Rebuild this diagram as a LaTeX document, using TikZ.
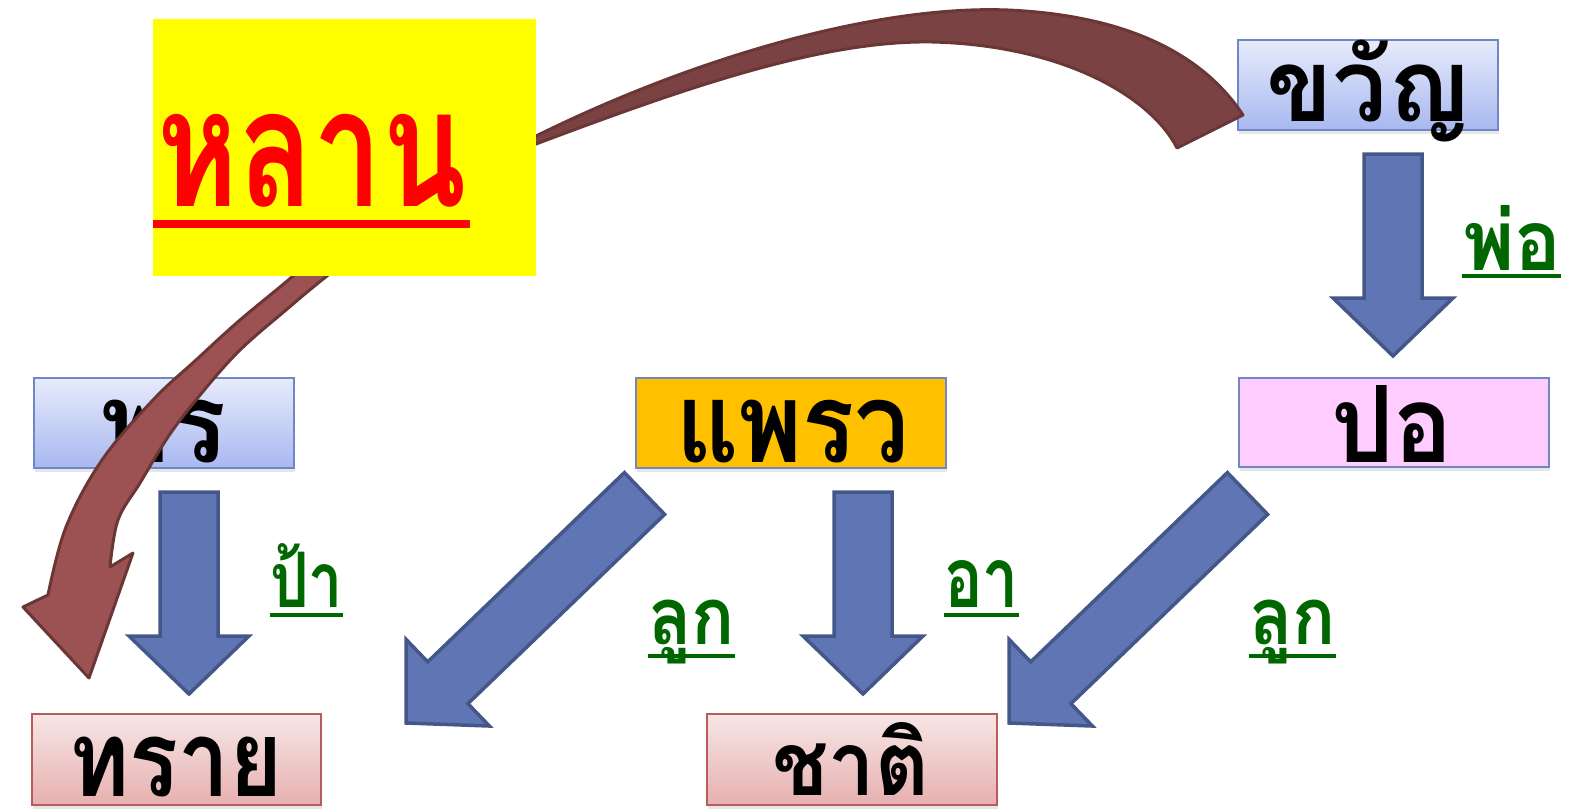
\documentclass[tikz,border=0pt]{standalone}
\usepackage{fontspec}
\usepackage{graphicx}
\newfontfamily\thaifont[Script=Thai]{Loma}
\XeTeXuseglyphmetrics=1
\usetikzlibrary{calc,shadows}
\definecolor{boxblue}{HTML}{6F87C7}
\definecolor{bluetop}{HTML}{E7EBFB}
\definecolor{bluebot}{HTML}{A8B8F0}
\definecolor{pinktop}{HTML}{F7E6E6}
\definecolor{pinkbot}{HTML}{E6B0AF}
\definecolor{pinkborder}{HTML}{B65C5A}
\definecolor{orangefill}{HTML}{FFC000}
\definecolor{lilac}{HTML}{FFCCFF}
\definecolor{arrowfill}{HTML}{6076B4}
\definecolor{arrowline}{HTML}{435788}
\definecolor{browndark}{HTML}{7A4242}
\definecolor{brownlight}{HTML}{9C5252}
\definecolor{brownline}{HTML}{6B3636}
\definecolor{labelgreen}{HTML}{006600}
\definecolor{titleyellow}{HTML}{FFFF00}
\newcommand\fittext[3]{\resizebox*{#1pt}{#2pt}{\thaifont\bfseries #3}}
\newcommand\barrow[2]{%
  \coordinate (hb) at ($(#2)!58pt!(#1)$);
  \draw[blockarrow] ($(#1)!29pt!90:(#2)$) -- ($(hb)!29pt!-90:(#1)$) -- ($(hb)!60pt!-90:(#1)$) -- (#2)
    -- ($(hb)!60pt!90:(#1)$) -- ($(hb)!29pt!90:(#1)$) -- ($(#1)!29pt!-90:(#2)$) -- cycle;}
\begin{document}
\begin{tikzpicture}[x=1pt,y=-1pt,
  box/.style={draw=boxblue, line width=2pt, inner sep=0pt, anchor=north west,
    drop shadow={shadow xshift=1pt, shadow yshift=-4pt, opacity=0.2}},
  bluebox/.style={box, top color=bluetop, bottom color=bluebot},
  pinkbox/.style={box, draw=pinkborder, top color=pinktop, bottom color=pinkbot},
  txt/.style={inner sep=0pt, outer sep=0pt, anchor=north west},
  blockarrow/.style={fill=arrowfill, draw=arrowline, line width=3.5pt, line join=miter},
  brownarrow/.style={draw=brownline, line width=3pt, line join=round},
  gul/.style={draw=labelgreen, line width=4pt},
]
\useasboundingbox (0,0) rectangle (1573,808);

% boxes
\node[bluebox, minimum width=260, minimum height=90] (kwan) at (1237,39) {};
\node[bluebox, minimum width=260, minimum height=90] (phon) at (33,377) {};
\node[box, fill=orangefill, minimum width=310, minimum height=90] (phraew) at (635,377) {};
\node[box, fill=lilac, minimum width=310, minimum height=89] (por) at (1238,377) {};
\node[pinkbox, minimum width=289, minimum height=91] (sai) at (31,713) {};
\node[pinkbox, minimum width=290, minimum height=91] (chat) at (706,713) {};

% box texts
\node[txt] (tkwan) at (1266,40) {\fittext{204}{102}{ขวัญ}};
\node[txt] (tphon) at (100,400) {\fittext{127}{63}{พร}};
\node[txt] (tphraew) at (676,400) {\fittext{233}{63}{แพรว}};
\node[txt] (tpor) at (1331,385) {\fittext{122}{77}{ปอ}};
\node[txt] (tsai) at (69,737) {\fittext{214}{60}{ทราย}};
\node[txt] (tchat) at (772,722) {\fittext{157}{73}{ชาติ}};

% block arrows
\coordinate (a1t) at (1393,154); \coordinate (a1p) at (1393,356);
\coordinate (a2t) at (189,492);  \coordinate (a2p) at (189,694);
\coordinate (a3t) at (863,492);  \coordinate (a3p) at (863,694);
\coordinate (a4t) at (644.5,493.5); \coordinate (a4p) at (406,723);
\coordinate (a5t) at (1247.5,493.5); \coordinate (a5p) at (1009,723);
\barrow{a1t}{a1p}
\barrow{a2t}{a2p}
\barrow{a3t}{a3p}
\barrow{a4t}{a4p}
\barrow{a5t}{a5p}

% relation labels
\node[txt, text=labelgreen] (lpho) at (1463,205) {\fittext{98}{65}{พ่อ}};
\draw[gul] (1462,276) -- (1561,276);
\node[txt, text=labelgreen] (lpa) at (270,543) {\fittext{73}{64}{ป้า}};
\draw[gul] (270,615) -- (343,615);
\node[txt, text=labelgreen] (lluk1) at (648,600) {\fittext{87}{64}{ลูก}};
\draw[gul] (648,656) -- (735,656);
\node[txt, text=labelgreen] (la) at (944,560) {\fittext{75}{47}{อา}};
\draw[gul] (944,615) -- (1019,615);
\node[txt, text=labelgreen] (lluk2) at (1249,600) {\fittext{87}{64}{ลูก}};
\draw[gul] (1249,656) -- (1336,656);

% brown curved arrow
\draw[brownarrow, fill=browndark] (520,146) -- (536,136) .. controls (700,55) and (880,5) .. (1008,10)
  .. controls (1120,15) and (1200,50) .. (1243,115) -- (1177,148)
  .. controls (1150,95) and (1060,45) .. (932,42) .. controls (820,40) and (680,90) .. (536,144) -- (520,152) -- cycle;
\draw[brownarrow, fill=brownlight] plot[smooth, tension=0.6] coordinates {(390,228) (327,276) (286,310) (238,352) (196,400) (168,437) (140,483) (118,520) (110,567)}
  -- (133,553) -- (89,678) -- (23,607) --
  plot[smooth, tension=0.6] coordinates {(48,595) (66,527) (102,460) (153,400) (196,360) (240,320) (293,276) (350,225)} -- cycle;

% yellow box with title
\node[txt, fill=titleyellow, minimum width=383, minimum height=257] (grand) at (153,19) {};
\node[txt, text=red] (tgrand) at (157,114) {\fittext{310}{93}{หลาน}};
\draw[red, line width=8pt] (153,224) -- (470,224);
\end{tikzpicture}
\end{document}
